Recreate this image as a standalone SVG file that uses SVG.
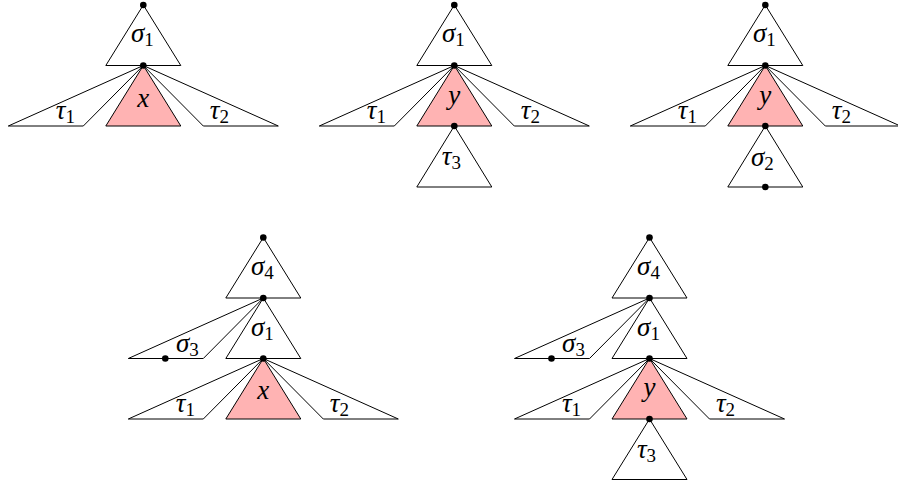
<svg xmlns="http://www.w3.org/2000/svg" width="898" height="484" viewBox="0 0 898 484">
<style>
  .t { fill: #ffffff; stroke: #000000; stroke-width: 1; stroke-linejoin: miter; }
  .p { fill: #ffb3b3; stroke: #000000; stroke-width: 1; }
  .d { fill: #000000; }
  text { font-family: "Liberation Serif", "DejaVu Serif", serif; font-style: italic; font-size: 27px; text-anchor: middle; fill: #000; }
  .s { font-style: normal; font-size: 19px; }
</style>
<rect x="0" y="0" width="898" height="484" fill="#ffffff"/>

<g id="fig1">
  <g id="fig1-sigma1"><polygon class="t" points="143.3,5 105.8,65.5 180.8,65.5"/><text x="142.3" y="42">σ<tspan class="s" dy="3.5">1</tspan></text></g>
  <g id="fig1-tau1"><polygon class="t" points="143.3,65.5 8.3,126 83.3,126"/><text x="65.3" y="119">τ<tspan class="s" dy="3.5">1</tspan></text></g>
  <g id="fig1-x"><polygon class="p" points="143.3,65.5 105.8,126 180.8,126"/><text x="143.3" y="107">x</text></g>
  <g id="fig1-tau2"><polygon class="t" points="143.3,65.5 203.3,126 278.3,126"/><text x="219.3" y="119">τ<tspan class="s" dy="3.5">2</tspan></text></g>
  <circle class="d" cx="143.3" cy="5" r="3.3"/>
  <circle class="d" cx="143.3" cy="65.5" r="3.3"/>
</g>

<g id="fig2">
  <g id="fig2-sigma1"><polygon class="t" points="454.3,5 416.8,65.5 491.8,65.5"/><text x="453.3" y="42">σ<tspan class="s" dy="3.5">1</tspan></text></g>
  <g id="fig2-tau1"><polygon class="t" points="454.3,65.5 319.3,126 394.3,126"/><text x="376.3" y="119">τ<tspan class="s" dy="3.5">1</tspan></text></g>
  <g id="fig2-y"><polygon class="p" points="454.3,65.5 416.8,126 491.8,126"/><text x="454.3" y="104">y</text></g>
  <g id="fig2-tau2"><polygon class="t" points="454.3,65.5 514.3,126 589.3,126"/><text x="530.3" y="119">τ<tspan class="s" dy="3.5">2</tspan></text></g>
  <g id="fig2-tau3"><polygon class="t" points="454.3,126 416.8,187 491.8,187"/><text x="451.3" y="165">τ<tspan class="s" dy="3.5">3</tspan></text></g>
  <circle class="d" cx="454.3" cy="5" r="3.3"/>
  <circle class="d" cx="454.3" cy="65.5" r="3.3"/>
  <circle class="d" cx="454.3" cy="126" r="3.3"/>
</g>

<g id="fig3">
  <g id="fig3-sigma1"><polygon class="t" points="765.3,5 727.8,65.5 802.8,65.5"/><text x="764.3" y="42">σ<tspan class="s" dy="3.5">1</tspan></text></g>
  <g id="fig3-tau1"><polygon class="t" points="765.3,65.5 630.3,126 705.3,126"/><text x="687.3" y="119">τ<tspan class="s" dy="3.5">1</tspan></text></g>
  <g id="fig3-y"><polygon class="p" points="765.3,65.5 727.8,126 802.8,126"/><text x="765.3" y="104">y</text></g>
  <g id="fig3-tau2"><polygon class="t" points="765.3,65.5 825.3,126 900.3,126"/><text x="841.3" y="119">τ<tspan class="s" dy="3.5">2</tspan></text></g>
  <g id="fig3-sigma2"><polygon class="t" points="765.3,126 727.8,187 802.8,187"/><text x="762.3" y="166">σ<tspan class="s" dy="3.5">2</tspan></text></g>
  <circle class="d" cx="765.3" cy="5" r="3.3"/>
  <circle class="d" cx="765.3" cy="65.5" r="3.3"/>
  <circle class="d" cx="765.3" cy="126" r="3.3"/>
  <circle class="d" cx="765.3" cy="187" r="3.3"/>
</g>

<g id="fig4">
  <g id="fig4-sigma4"><polygon class="t" points="263.3,237.5 225.8,298 300.8,298"/><text x="262.3" y="275">σ<tspan class="s" dy="3.5">4</tspan></text></g>
  <g id="fig4-sigma3"><polygon class="t" points="263.3,298 128.3,358.5 203.3,358.5"/><text x="187.3" y="352">σ<tspan class="s" dy="3.5">3</tspan></text></g>
  <g id="fig4-sigma1"><polygon class="t" points="263.3,298 225.8,358.5 300.8,358.5"/><text x="262.3" y="336">σ<tspan class="s" dy="3.5">1</tspan></text></g>
  <g id="fig4-tau1"><polygon class="t" points="263.3,358.5 128.3,419 203.3,419"/><text x="185.3" y="412">τ<tspan class="s" dy="3.5">1</tspan></text></g>
  <g id="fig4-x"><polygon class="p" points="263.3,358.5 225.8,419 300.8,419"/><text x="263.3" y="399">x</text></g>
  <g id="fig4-tau2"><polygon class="t" points="263.3,358.5 323.3,419 398.3,419"/><text x="339.3" y="412">τ<tspan class="s" dy="3.5">2</tspan></text></g>
  <circle class="d" cx="263.3" cy="237.5" r="3.3"/>
  <circle class="d" cx="263.3" cy="298" r="3.3"/>
  <circle class="d" cx="165.3" cy="358.5" r="3.3"/>
  <circle class="d" cx="263.3" cy="358.5" r="3.3"/>
</g>

<g id="fig5">
  <g id="fig5-sigma4"><polygon class="t" points="649.5,237.5 612,298 687,298"/><text x="648.5" y="275">σ<tspan class="s" dy="3.5">4</tspan></text></g>
  <g id="fig5-sigma3"><polygon class="t" points="649.5,298 514.5,358.5 589.5,358.5"/><text x="573.5" y="352">σ<tspan class="s" dy="3.5">3</tspan></text></g>
  <g id="fig5-sigma1"><polygon class="t" points="649.5,298 612,358.5 687,358.5"/><text x="648.5" y="336">σ<tspan class="s" dy="3.5">1</tspan></text></g>
  <g id="fig5-tau1"><polygon class="t" points="649.5,358.5 514.5,419 589.5,419"/><text x="571.5" y="412">τ<tspan class="s" dy="3.5">1</tspan></text></g>
  <g id="fig5-y"><polygon class="p" points="649.5,358.5 612,419 687,419"/><text x="649.5" y="396">y</text></g>
  <g id="fig5-tau2"><polygon class="t" points="649.5,358.5 709.5,419 784.5,419"/><text x="725.5" y="412">τ<tspan class="s" dy="3.5">2</tspan></text></g>
  <g id="fig5-tau3"><polygon class="t" points="649.5,419 612,479.5 687,479.5"/><text x="646.5" y="458">τ<tspan class="s" dy="3.5">3</tspan></text></g>
  <circle class="d" cx="649.5" cy="237.5" r="3.3"/>
  <circle class="d" cx="649.5" cy="298" r="3.3"/>
  <circle class="d" cx="551.5" cy="358.5" r="3.3"/>
  <circle class="d" cx="649.5" cy="358.5" r="3.3"/>
  <circle class="d" cx="649.5" cy="419" r="3.3"/>
</g>
</svg>
